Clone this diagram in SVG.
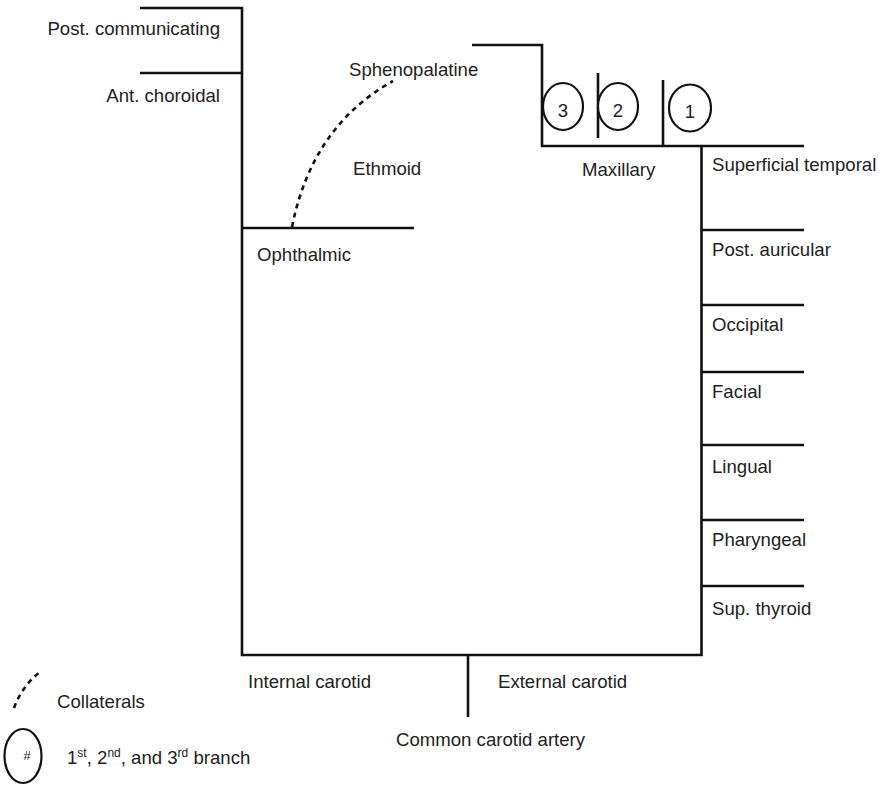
<svg xmlns="http://www.w3.org/2000/svg" width="882" height="785" viewBox="0 0 882 785">
  <style>
    .ln { stroke: #111; stroke-width: 2.6; fill: none; stroke-linecap: butt; }
    .dash { stroke: #111; stroke-width: 2.6; fill: none; stroke-dasharray: 5 4.5; }
    .br { stroke: #111; stroke-width: 2.2; fill: #fff; }
    text { font-family: "Liberation Sans", Arial, sans-serif; font-size: 18.6px; fill: #222; }
    .end { text-anchor: end; }
    .mid { text-anchor: middle; }
    .sup { font-size: 12px; }
  </style>
  <rect width="882" height="785" fill="#fff"/>

  <!-- vessel trunks and branch lines -->
  <g id="connectors">
    <!-- internal carotid trunk with top branches -->
    <path class="ln" d="M140,8 H242 V655 H701.5 V146"/>
    <path class="ln" d="M140,73 H242"/>
    <!-- ophthalmic -->
    <path class="ln" d="M242,228 H414"/>
    <!-- common carotid -->
    <path class="ln" d="M468,655 V717"/>
    <!-- maxillary with sphenopalatine -->
    <path class="ln" d="M472,45 H542 V146 H804"/>
    <path class="ln" d="M598,73 V138"/>
    <path class="ln" d="M663,80 V146"/>
    <!-- external carotid branches -->
    <path class="ln" d="M701.5,230 H804"/>
    <path class="ln" d="M701.5,305 H804"/>
    <path class="ln" d="M701.5,372 H804"/>
    <path class="ln" d="M701.5,445 H804"/>
    <path class="ln" d="M701.5,520 H804"/>
    <path class="ln" d="M701.5,586 H804"/>
    <!-- collateral: ethmoid to sphenopalatine -->
    <path class="dash" d="M292,227 Q312,126 393,81"/>
  </g>

  <g id="branch-order">
    <ellipse class="br" cx="563" cy="106.5" rx="20" ry="23.5"/>
    <text x="563" y="117" class="mid">3</text>
    <ellipse class="br" cx="618" cy="106.5" rx="20" ry="23.5"/>
    <text x="618" y="117" class="mid">2</text>
    <ellipse class="br" cx="690" cy="108" rx="21" ry="23.5"/>
    <text x="690" y="118" class="mid">1</text>
  </g>

  <g id="internal-labels">
    <text x="220" y="35" class="end">Post. communicating</text>
    <text x="220" y="102" class="end">Ant. choroidal</text>
    <text x="349" y="76">Sphenopalatine</text>
    <text x="353" y="175">Ethmoid</text>
    <text x="257" y="261">Ophthalmic</text>
    <text x="582" y="176">Maxillary</text>
  </g>

  <g id="external-labels">
    <text x="712" y="171">Superficial temporal</text>
    <text x="712" y="256">Post. auricular</text>
    <text x="712" y="331">Occipital</text>
    <text x="712" y="398">Facial</text>
    <text x="712" y="473">Lingual</text>
    <text x="712" y="546">Pharyngeal</text>
    <text x="712" y="615">Sup. thyroid</text>
  </g>

  <g id="carotid-labels">
    <text x="248" y="688">Internal carotid</text>
    <text x="498" y="688">External carotid</text>
    <text x="396" y="746">Common carotid artery</text>
  </g>

  <g id="legend">
    <path class="dash" d="M14,708 Q22,686 40,672"/>
    <text x="57" y="708">Collaterals</text>
    <ellipse class="br" cx="23" cy="756" rx="18.5" ry="27"/>
    <text x="27" y="760" class="mid" style="font-size:13px">#</text>
    <text x="67" y="764">1<tspan class="sup" dy="-7">st</tspan><tspan dy="7">, 2</tspan><tspan class="sup" dy="-7">nd</tspan><tspan dy="7">, and 3</tspan><tspan class="sup" dy="-7">rd</tspan><tspan dy="7"> branch</tspan></text>
  </g>
</svg>
